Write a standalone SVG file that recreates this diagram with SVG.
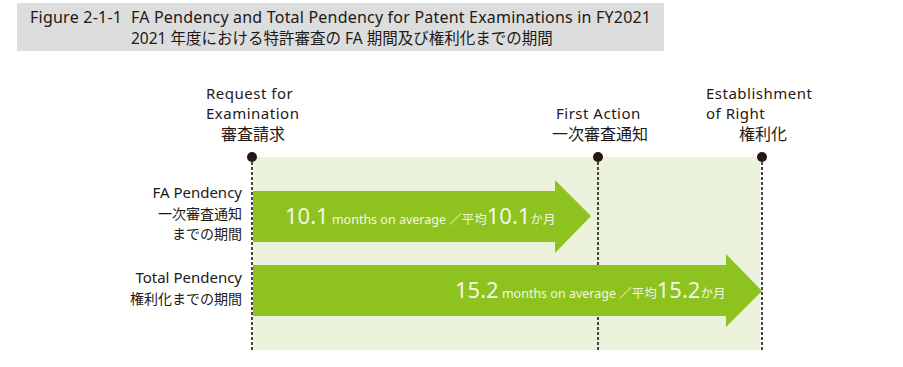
<svg xmlns="http://www.w3.org/2000/svg" width="903" height="367" viewBox="0 0 903 367">
<style>
text{font-family:"Noto Sans","Noto Sans CJK JP",sans-serif;fill:#231815;}
.t{font-size:16px;}
.t2{font-size:15.5px;}
.lbl{font-size:15px;letter-spacing:0.5px;}
.lc{font-size:16px;}
.le{font-size:15px;}
.lj{font-size:14px;}
.r{text-anchor:end;}
.in{fill:#f3f7e4;}
.big{font-size:22px;}
.sm{font-size:12.5px;}
.dash{stroke:#231815;stroke-width:1.6;stroke-dasharray:3 2;fill:none;}
.dot{fill:#231815;}
.bar{fill:#8dc21f;}
</style>
<rect x="0" y="0" width="903" height="367" fill="#ffffff"/>
<g id="title">
<rect x="17" y="3" width="647" height="48" fill="#dcdddd"/>
<text class="t" x="30" y="23" textLength="92" lengthAdjust="spacing">Figure 2-1-1</text>
<text class="t" x="131" y="23" textLength="520" lengthAdjust="spacing">FA Pendency and Total Pendency for Patent Examinations in FY2021</text>
<text class="t2" x="131" y="44">2021 年度における特許審査の FA 期間及び権利化までの期間</text>
</g>
<g id="background">
<rect x="253" y="157" width="507" height="193" fill="#ebf3dc"/>
</g>
<g id="connectors">
<line class="dash" x1="252" y1="157" x2="252" y2="351"/>
<line class="dash" x1="598" y1="157" x2="598" y2="351"/>
<line class="dash" x1="762" y1="157" x2="762" y2="351"/>
</g>
<g id="request">
<circle class="dot" cx="252" cy="157" r="5"/>
<text class="lbl" x="206" y="99">Request for</text>
<text class="lbl" x="206" y="119">Examination</text>
<text class="lc" x="221" y="140">審査請求</text>
</g>
<g id="first-action">
<circle class="dot" cx="598" cy="157" r="5"/>
<text class="lbl" x="556" y="119">First Action</text>
<text class="lc" x="552" y="140">一次審査通知</text>
</g>
<g id="establishment">
<circle class="dot" cx="762" cy="157" r="5"/>
<text class="lbl" x="706" y="99">Establishment</text>
<text class="lbl" x="706" y="119">of Right</text>
<text class="lc" x="739" y="140">権利化</text>
</g>
<g id="fa-pendency">
<text class="le r" x="242" y="198">FA Pendency</text>
<text class="lj r" x="242" y="219">一次審査通知</text>
<text class="lj r" x="242" y="239">までの期間</text>
<polygon class="bar" points="253,191 555,191 555,180 591,216 555,253 555,242 253,242"/>
<text class="in" x="285" y="224"><tspan class="big">10.1</tspan><tspan class="sm"> months on average ／平均</tspan><tspan class="big">10.1</tspan><tspan class="sm">か月</tspan></text>
</g>
<g id="total-pendency">
<text class="le r" x="242" y="283">Total Pendency</text>
<text class="lj r" x="242" y="304">権利化までの期間</text>
<polygon class="bar" points="253,265 726,265 726,254 762,291 726,327 726,316 253,316"/>
<text class="in" x="455" y="298"><tspan class="big">15.2</tspan><tspan class="sm"> months on average ／平均</tspan><tspan class="big">15.2</tspan><tspan class="sm">か月</tspan></text>
</g>
</svg>
